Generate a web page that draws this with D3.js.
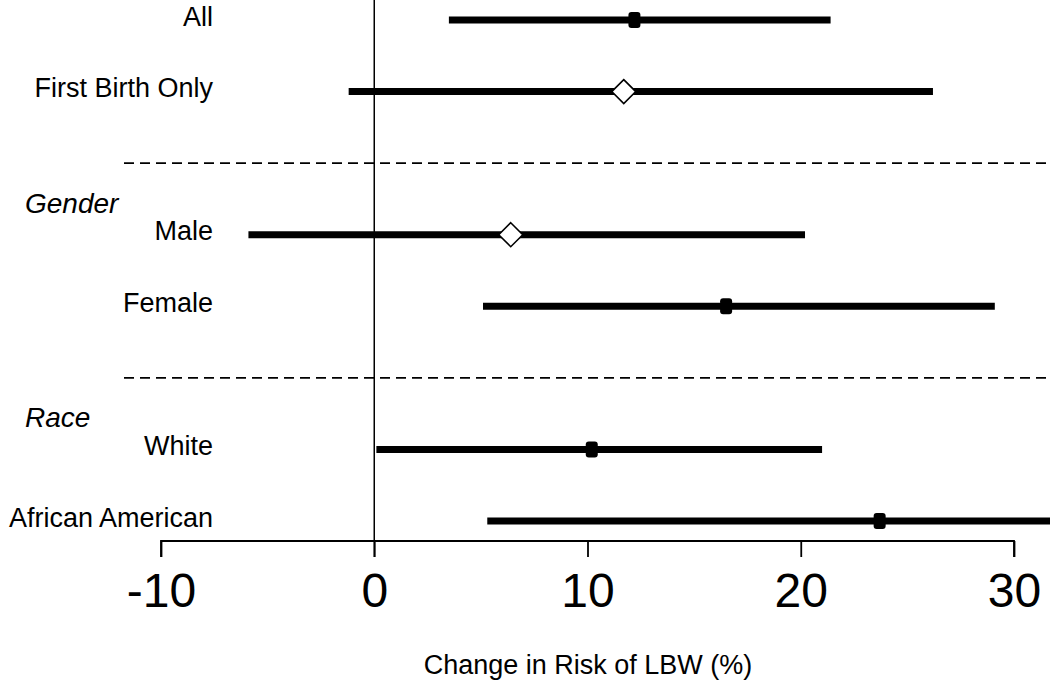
<!DOCTYPE html>
<html><head><meta charset="utf-8">
<script src="https://cdn.jsdelivr.net/npm/d3@7"></script>
<style>body{margin:0;background:#fff}svg{display:block;font-family:"Liberation Sans",Arial,sans-serif}</style>
</head><body><svg id="c" width="1050" height="684"></svg>
<script>
const labels = ["All","First Birth Only","Male","Female","White","African American"];
const estimates = [12.2, 11.7, 6.4, 16.5, 10.2, 23.7];
const lower = [3.5, -1.2, -5.9, 5.1, 0.1, 5.3];
const upper = [21.4, 26.2, 20.2, 29.1, 21.0, 40];
const significant = [true, false, false, true, true, true];
const rowPos = [0, 1, 3, 4, 6, 7];
const groupHeaders = ["Gender","Race"];
const groupPos = [2.56, 5.54];
const separators = [2, 5];
const ticks = [-10, 0, 10, 20, 30];

const svg = d3.select("#c");
const x = d3.scaleLinear().domain([-10, 30]).range([161, 1014]);
const y = d3.scaleLinear().domain([0, 7]).range([20, 521]);

svg.append("defs").append("clipPath").attr("id","clip")
  .append("rect").attr("x",0).attr("y",0).attr("width",1050).attr("height",684);

// zero line
svg.append("line").attr("x1",x(0)).attr("x2",x(0)).attr("y1",0).attr("y2",557)
  .attr("stroke","#000").attr("stroke-width",1.5);

// separators
svg.selectAll(".sep").data(separators).join("line")
  .attr("x1",124).attr("x2",1046).attr("y1",d=>y(d)).attr("y2",d=>y(d))
  .attr("stroke","#000").attr("stroke-width",1.6).attr("stroke-dasharray","10,6");

// CI lines
const g = svg.append("g").attr("clip-path","url(#clip)");
g.selectAll(".ci").data(labels).join("line")
  .attr("x1",(d,i)=>x(lower[i])).attr("x2",(d,i)=>x(upper[i]))
  .attr("y1",(d,i)=>y(rowPos[i])).attr("y2",(d,i)=>y(rowPos[i]))
  .attr("stroke","#000").attr("stroke-width",7);

// markers
labels.forEach((d,i)=>{
  const cx = x(estimates[i]), cy = y(rowPos[i]);
  if (significant[i]) {
    g.append("rect").attr("x",cx-6).attr("y",cy-8).attr("width",12).attr("height",16)
      .attr("rx",3).attr("fill","#000");
  } else {
    g.append("path").attr("d",`M${cx},${cy-12}L${cx+12},${cy}L${cx},${cy+12}L${cx-12},${cy}Z`)
      .attr("fill","#fff").attr("stroke","#000").attr("stroke-width",1.6);
  }
});

// row labels
svg.selectAll(".lab").data(labels).join("text")
  .attr("x",213).attr("y",(d,i)=>y(rowPos[i]) - 4).attr("dy","0.36em")
  .attr("text-anchor","end").attr("font-size",27).text(d=>d);

svg.selectAll(".grp").data(groupHeaders).join("text")
  .attr("x",25).attr("y",(d,i)=>y(groupPos[i])).attr("dy","0.36em")
  .attr("font-size",28).attr("font-style","italic").text(d=>d);

// axis
const ax = svg.append("g").attr("transform","translate(0,541)")
  .call(d3.axisBottom(x).tickValues(ticks).tickSize(16).tickFormat(d => String(d)));
ax.select(".domain").attr("stroke","#000").attr("stroke-width",1.8).attr("d",`M${x(-10)},16V0H${x(30)}V16`);
ax.selectAll(".tick line").attr("stroke","#000").attr("stroke-width",1.8);
ax.selectAll(".tick text").attr("font-size",48).attr("fill","#000")
  .attr("font-family","Liberation Sans, Arial, sans-serif").attr("y",66).attr("dy",0);

svg.append("text").attr("x",588).attr("y",674).attr("text-anchor","middle")
  .attr("font-size",27).text("Change in Risk of LBW (%)");
</script></body></html>
